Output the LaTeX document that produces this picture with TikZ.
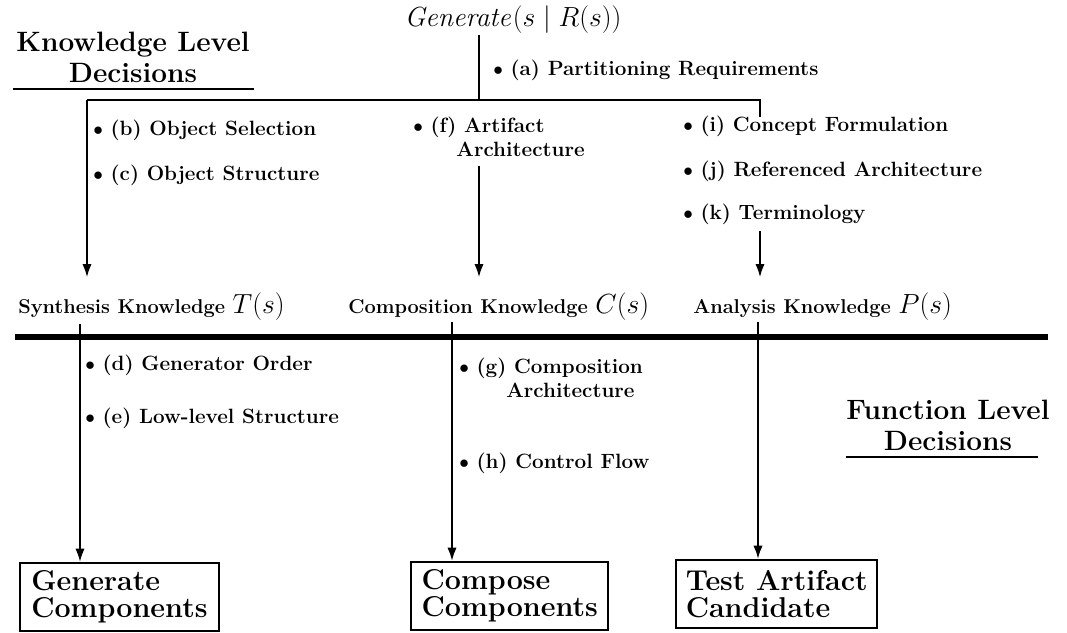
\documentclass[tikz,border=0pt]{standalone}
\usepackage{amsmath,amssymb}
\usepackage{tikz}
\usetikzlibrary{positioning,arrows.meta,calc}
\tikzset{
  flow/.style={-{Latex[length=10pt,width=7pt]}, line width=1.6pt},
  into/.style={shorten >=11pt},
  link/.style={line width=1.6pt},
  bar/.style={line width=5pt},
  rule/.style={line width=1.4pt},
  item/.style={font=\fontsize{15.5}{18}\selectfont\bfseries, inner sep=0pt, align=left},
  know/.style={font=\fontsize{15}{18}\selectfont\bfseries, inner sep=0pt, anchor=base west},
  decide/.style={font=\fontsize{21}{23}\selectfont\bfseries, inner sep=0pt, align=center, anchor=north},
  task/.style={rectangle, draw, line width=1.6pt, font=\fontsize{21.5}{20}\selectfont\bfseries, align=left, anchor=north west, minimum height=51pt, inner xsep=5pt}
}
\newcommand{\itm}[1]{$\bullet$~(#1)~}
\newcommand{\kfun}[1]{{\fontsize{22}{22}\selectfont$#1$}}

\begin{document}
\begin{tikzpicture}[x=0.75pt, y=-0.75pt]
\useasboundingbox (0,0) rectangle (1067,632);
% headings
\node[decide] (klhead) at (133,32) {Knowledge Level\\Decisions};
\node[decide] (flhead) at (948,400) {Function Level\\Decisions};
\draw[rule] ([xshift=-2pt,yshift=-4.5pt]klhead.south west) -- ([xshift=3pt,yshift=-4.5pt]klhead.south east);
\draw[rule] ([yshift=-4.5pt]flhead.south west) -- ([xshift=-9pt,yshift=-4.5pt]flhead.south east);
% top: generate and the knowledge level split
\node[inner sep=1pt, font=\fontsize{22}{22}\selectfont] (gen) at (513,20) {$\mathit{Generate}(s \mid R(s))$};
\node[item, anchor=base west] (part) at (493,75) {\itm{a}Partitioning Requirements};
\coordinate (brL) at (87,100);
\coordinate (brM) at (479,100);
\coordinate (brR) at (760,100);
\coordinate (brT) at (760,117);
\draw[link] (gen.south -| brM) -- (brM);
\draw[link] (brT) -- (brR) -- (brL);
\node[item, anchor=base west] (objsel) at (93,135) {\itm{b}Object Selection};
\node[item, anchor=base west] (objstr) at (93,180) {\itm{c}Object Structure};
\node[item, anchor=north west] (artarch) at (413,117) {\itm{f}Artifact\\\hphantom{$\bullet$~(f)}Architecture};
\node[item, anchor=base west] (concept) at (683,131) {\itm{i}Concept Formulation};
\node[item, anchor=base west] (refarch) at (683,176) {\itm{j}Referenced Architecture};
\node[item, anchor=base west] (term) at (683,219) {\itm{k}Terminology};
% knowledge kinds
\node[know] (synth) at (18,313) {Synthesis Knowledge \kfun{T(s)}};
\node[know] (compk) at (348,313) {Composition Knowledge \kfun{C(s)}};
\node[know] (analk) at (693,313) {Analysis Knowledge \kfun{P(s)}};
\draw[flow, into] (brL) -- (brL |- synth.north);
\draw[flow, into] ([yshift=-7pt]artarch.south -| brM) -- (brM |- compk.north);
\draw[flow, into] ([yshift=-5pt]term.south -| brR) -- (brR |- analk.north);
\coordinate (barL) at (15,337);
\coordinate (barR) at (1048,337);
\draw[bar] (barL) -- (barR);
% function level
\node[item, anchor=base west] (genord) at (85,370) {\itm{d}Generator Order};
\node[item, anchor=base west] (lowlvl) at (85,423) {\itm{e}Low-level Structure};
\node[item, anchor=north west] (comparch) at (459,358) {\itm{g}Composition\\\hphantom{$\bullet$~(g)}Architecture};
\node[item, anchor=base west] (ctrl) at (459,468) {\itm{h}Control Flow};
\node[task, minimum width=149pt] (gencomp) at (19,562) {Generate\\Components};
\node[task, minimum width=148pt] (compcomp) at (410,561) {Compose\\Components};
\node[task, minimum width=151pt] (testart) at (675,559) {Test Artifact\\Candidate};
\coordinate (dL) at (80,324);
\coordinate (dM) at (452,322);
\coordinate (dR) at (758,322);
\draw[flow] (dL) -- (dL |- gencomp.north);
\draw[flow] (dM) -- (dM |- compcomp.north);
\draw[flow] (dR) -- (dR |- testart.north);
\end{tikzpicture}
\end{document}
